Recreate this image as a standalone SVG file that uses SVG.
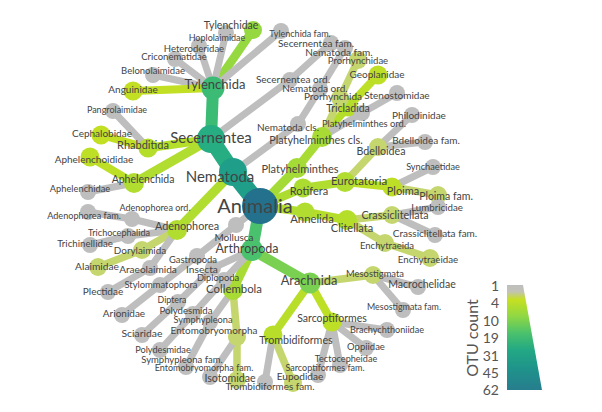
<svg xmlns="http://www.w3.org/2000/svg" width="602" height="412" viewBox="0 0 602 412">
<defs>
<linearGradient id="lg" x1="0" y1="0" x2="0" y2="1">
<stop offset="0" stop-color="#bebebe"/>
<stop offset="0.06" stop-color="#c2c2b8"/>
<stop offset="0.14" stop-color="#c6e021"/>
<stop offset="0.3" stop-color="#8fd744"/>
<stop offset="0.45" stop-color="#4ec36b"/>
<stop offset="0.62" stop-color="#22a884"/>
<stop offset="0.8" stop-color="#1f938b"/>
<stop offset="1" stop-color="#277d8e"/>
</linearGradient>
<style>
line{stroke-linecap:butt}
.eg{stroke:#bebebe;stroke-width:7}
.eo{stroke:#c5d66e;stroke-width:7.5}
.ng{fill:#bebebe}
.no{fill:#c5d66e}
text{font-family:Lato,"Liberation Sans",sans-serif;fill:#444;text-anchor:middle}
.lg{font-size:14px;fill:#555}
</style>
</defs>
<rect width="602" height="412" fill="#fff"/>
<g id="connectors">
<line x1="260" y1="206" x2="233" y2="172" stroke="#1f9e89" stroke-width="18"/>
<line x1="260" y1="206" x2="297" y2="168" stroke="#a5db36" stroke-width="9"/>
<line x1="260" y1="206" x2="303" y2="188" stroke="#addc30" stroke-width="8.5"/>
<line x1="260" y1="206" x2="305" y2="212" stroke="#b0dd2f" stroke-width="8.5"/>
<line x1="260" y1="206" x2="252" y2="250" stroke="#4ac16d" stroke-width="12"/>
<line x1="260" y1="206" x2="236" y2="225" class="eg"/>
<line x1="233" y1="172" x2="211" y2="139" stroke="#26ad81" stroke-width="16"/>
<line x1="233" y1="172" x2="177" y2="230" stroke="#b0dd2f" stroke-width="9"/>
<line x1="233" y1="172" x2="298" y2="124" class="eg"/>
<line x1="298" y1="124" x2="320" y2="89" class="eg"/>
<line x1="320" y1="89" x2="345" y2="48" class="eg"/>
<line x1="211" y1="139" x2="213" y2="88" stroke="#3cbb75" stroke-width="12"/>
<line x1="211" y1="139" x2="148" y2="148" stroke="#b5de2b" stroke-width="8.5"/>
<line x1="211" y1="139" x2="134" y2="183" stroke="#b0dd2f" stroke-width="9"/>
<line x1="211" y1="139" x2="290" y2="80" class="eg"/>
<line x1="290" y1="80" x2="331" y2="43" class="eg"/>
<line x1="213" y1="88" x2="253" y2="30" stroke="#95d840" stroke-width="8.5"/>
<line x1="213" y1="88" x2="226" y2="33" class="eg"/>
<line x1="213" y1="88" x2="199" y2="46" class="eg"/>
<line x1="213" y1="88" x2="175" y2="59" class="eg"/>
<line x1="213" y1="88" x2="153" y2="75" class="eg"/>
<line x1="213" y1="88" x2="133" y2="91" stroke="#c2df23" stroke-width="8"/>
<line x1="213" y1="88" x2="281" y2="31" class="eg"/>
<line x1="148" y1="148" x2="101" y2="135" stroke="#c2df23" stroke-width="8"/>
<line x1="148" y1="148" x2="113" y2="111" class="eg"/>
<line x1="134" y1="183" x2="90" y2="157" stroke="#bddf26" stroke-width="8"/>
<line x1="134" y1="183" x2="88" y2="192" class="eg"/>
<line x1="177" y1="230" x2="132" y2="219" class="eg"/>
<line x1="132" y1="219" x2="88" y2="212" class="eg"/>
<line x1="177" y1="230" x2="128" y2="236" class="eg"/>
<line x1="128" y1="236" x2="90" y2="245" class="eg"/>
<line x1="177" y1="230" x2="142" y2="250" class="eo"/>
<line x1="142" y1="250" x2="98" y2="267" class="eo"/>
<line x1="177" y1="230" x2="150" y2="268" class="eg"/>
<line x1="150" y1="268" x2="108" y2="292" class="eg"/>
<line x1="297" y1="168" x2="322" y2="137" stroke="#a8db34" stroke-width="8.5"/>
<line x1="322" y1="137" x2="348" y2="107" stroke="#b5de2b" stroke-width="8"/>
<line x1="348" y1="107" x2="378" y2="75" stroke="#bddf26" stroke-width="8"/>
<line x1="322" y1="137" x2="340" y2="98" class="eo"/>
<line x1="340" y1="98" x2="358" y2="60" class="eo"/>
<line x1="322" y1="137" x2="362" y2="113" class="eg"/>
<line x1="362" y1="113" x2="397" y2="93" class="eg"/>
<line x1="303" y1="188" x2="345" y2="182" stroke="#b0dd2f" stroke-width="8.5"/>
<line x1="345" y1="182" x2="378" y2="147" class="eo"/>
<line x1="378" y1="147" x2="412" y2="115" class="eg"/>
<line x1="378" y1="147" x2="425" y2="142" class="eg"/>
<line x1="345" y1="182" x2="392" y2="187" stroke="#bddf26" stroke-width="8"/>
<line x1="392" y1="187" x2="433" y2="167" class="eg"/>
<line x1="392" y1="187" x2="438" y2="195" class="eo"/>
<line x1="305" y1="212" x2="347" y2="220" stroke="#b5de2b" stroke-width="8.5"/>
<line x1="347" y1="220" x2="392" y2="215" class="eo"/>
<line x1="392" y1="215" x2="438" y2="207" class="eg"/>
<line x1="392" y1="215" x2="435" y2="235" class="eg"/>
<line x1="347" y1="220" x2="385" y2="243" class="eo"/>
<line x1="385" y1="243" x2="430" y2="258" class="eo"/>
<line x1="252" y1="250" x2="310" y2="283" stroke="#7ad151" stroke-width="10"/>
<line x1="310" y1="283" x2="373" y2="275" class="eo"/>
<line x1="373" y1="275" x2="418" y2="287" class="eg"/>
<line x1="373" y1="275" x2="403" y2="310" class="eg"/>
<line x1="310" y1="283" x2="332" y2="322" stroke="#bddf26" stroke-width="8"/>
<line x1="332" y1="322" x2="387" y2="330" class="eg"/>
<line x1="332" y1="322" x2="366" y2="348" class="eg"/>
<line x1="332" y1="322" x2="340" y2="365" class="eg"/>
<line x1="332" y1="322" x2="318" y2="375" class="eg"/>
<line x1="310" y1="283" x2="273" y2="335" stroke="#b8de29" stroke-width="8"/>
<line x1="273" y1="335" x2="293" y2="383" class="eo"/>
<line x1="273" y1="335" x2="265" y2="382" class="eg"/>
<line x1="252" y1="250" x2="233" y2="290" stroke="#a8db34" stroke-width="9"/>
<line x1="233" y1="290" x2="237" y2="337" class="eo"/>
<line x1="237" y1="337" x2="237" y2="380" class="eo"/>
<line x1="237" y1="337" x2="210" y2="377" class="eg"/>
<line x1="233" y1="290" x2="210" y2="322" class="eg"/>
<line x1="210" y1="322" x2="186" y2="367" class="eg"/>
<line x1="252" y1="250" x2="213" y2="268" class="eg"/>
<line x1="213" y1="268" x2="178" y2="302" class="eg"/>
<line x1="178" y1="302" x2="142" y2="335" class="eg"/>
<line x1="252" y1="250" x2="224" y2="280" class="eg"/>
<line x1="224" y1="280" x2="193" y2="314" class="eg"/>
<line x1="193" y1="314" x2="160" y2="350" class="eg"/>
<line x1="236" y1="225" x2="197" y2="256" class="eg"/>
<line x1="197" y1="256" x2="160" y2="285" class="eg"/>
<line x1="160" y1="285" x2="122" y2="315" class="eg"/>
</g>
<g id="nodes">
<g id="n-animalia"><circle cx="260" cy="206" r="18" fill="#23718c"/></g>
<g id="n-nematoda"><circle cx="233" cy="172" r="14" fill="#1f9e89"/></g>
<g id="n-secernentea"><circle cx="211" cy="139" r="14" fill="#26ad81"/></g>
<g id="n-tylenchida"><circle cx="213" cy="88" r="11.5" fill="#3cbb75"/></g>
<g id="n-tylenchidae"><circle cx="253" cy="30" r="9" fill="#95d840"/></g>
<g id="n-hoplolaimidae"><circle cx="226" cy="33" r="8" class="ng"/></g>
<g id="n-heteroderidae"><circle cx="199" cy="46" r="8" class="ng"/></g>
<g id="n-criconematidae"><circle cx="175" cy="59" r="8" class="ng"/></g>
<g id="n-belonolaimidae"><circle cx="153" cy="75" r="8" class="ng"/></g>
<g id="n-anguinidae"><circle cx="133" cy="91" r="9.5" fill="#c2df23"/></g>
<g id="n-tylenchida-fam"><circle cx="281" cy="31" r="8" class="ng"/></g>
<g id="n-rhabditida"><circle cx="148" cy="148" r="9.5" fill="#b5de2b"/></g>
<g id="n-cephalobidae"><circle cx="101" cy="135" r="9.5" fill="#c2df23"/></g>
<g id="n-pangrolaimidae"><circle cx="113" cy="111" r="8" class="ng"/></g>
<g id="n-aphelenchida"><circle cx="134" cy="183" r="10" fill="#b0dd2f"/></g>
<g id="n-aphelenchoididae"><circle cx="90" cy="157" r="9.5" fill="#bddf26"/></g>
<g id="n-aphelenchidae"><circle cx="88" cy="192" r="8" class="ng"/></g>
<g id="n-secernentea-ord"><circle cx="290" cy="80" r="8" class="ng"/></g>
<g id="n-secernentea-fam"><circle cx="331" cy="43" r="8" class="ng"/></g>
<g id="n-nematoda-cls"><circle cx="298" cy="124" r="8" class="ng"/></g>
<g id="n-nematoda-ord"><circle cx="320" cy="89" r="8" class="ng"/></g>
<g id="n-nematoda-fam"><circle cx="345" cy="48" r="8" class="ng"/></g>
<g id="n-adenophorea"><circle cx="177" cy="230" r="10" fill="#b0dd2f"/></g>
<g id="n-adenophorea-ord"><circle cx="132" cy="219" r="8" class="ng"/></g>
<g id="n-adenophorea-fam"><circle cx="88" cy="212" r="8" class="ng"/></g>
<g id="n-trichocephalida"><circle cx="128" cy="236" r="8" class="ng"/></g>
<g id="n-trichinellidae"><circle cx="90" cy="245" r="8" class="ng"/></g>
<g id="n-dorylaimida"><circle cx="142" cy="250" r="9" class="no"/></g>
<g id="n-alaimidae"><circle cx="98" cy="267" r="9" class="no"/></g>
<g id="n-araeolaimida"><circle cx="150" cy="268" r="8" class="ng"/></g>
<g id="n-plectidae"><circle cx="108" cy="292" r="8" class="ng"/></g>
<g id="n-platyhelminthes"><circle cx="297" cy="168" r="10" fill="#a5db36"/></g>
<g id="n-platyhelminthes-cls"><circle cx="322" cy="137" r="10" fill="#a8db34"/></g>
<g id="n-tricladida"><circle cx="348" cy="107" r="9.5" fill="#b5de2b"/></g>
<g id="n-geoplanidae"><circle cx="378" cy="75" r="9.5" fill="#bddf26"/></g>
<g id="n-prorhynchida"><circle cx="340" cy="98" r="9" class="no"/></g>
<g id="n-prorhynchidae"><circle cx="358" cy="60" r="9" class="no"/></g>
<g id="n-platyhelminthes-ord"><circle cx="362" cy="113" r="8" class="ng"/></g>
<g id="n-stenostomidae"><circle cx="397" cy="93" r="8" class="ng"/></g>
<g id="n-rotifera"><circle cx="303" cy="188" r="9.5" fill="#addc30"/></g>
<g id="n-eurotatoria"><circle cx="345" cy="182" r="10" fill="#b0dd2f"/></g>
<g id="n-bdelloidea"><circle cx="378" cy="147" r="9" class="no"/></g>
<g id="n-philodinidae"><circle cx="412" cy="115" r="8" class="ng"/></g>
<g id="n-bdelloidea-fam"><circle cx="425" cy="142" r="8" class="ng"/></g>
<g id="n-ploima"><circle cx="392" cy="187" r="9.5" fill="#bddf26"/></g>
<g id="n-synchaetidae"><circle cx="433" cy="167" r="8" class="ng"/></g>
<g id="n-ploima-fam"><circle cx="438" cy="195" r="9" class="no"/></g>
<g id="n-annelida"><circle cx="305" cy="212" r="9.5" fill="#b0dd2f"/></g>
<g id="n-clitellata"><circle cx="347" cy="220" r="10" fill="#b5de2b"/></g>
<g id="n-crassiclitellata"><circle cx="392" cy="215" r="9" class="no"/></g>
<g id="n-lumbricidae"><circle cx="438" cy="207" r="8" class="ng"/></g>
<g id="n-crassiclitellata-fam"><circle cx="435" cy="235" r="8" class="ng"/></g>
<g id="n-enchytraeida"><circle cx="385" cy="243" r="9" class="no"/></g>
<g id="n-enchytraeidae"><circle cx="430" cy="258" r="9" class="no"/></g>
<g id="n-arthropoda"><circle cx="252" cy="250" r="11" fill="#4ac16d"/></g>
<g id="n-arachnida"><circle cx="310" cy="283" r="10.5" fill="#7ad151"/></g>
<g id="n-mesostigmata"><circle cx="373" cy="275" r="9" class="no"/></g>
<g id="n-macrochelidae"><circle cx="418" cy="287" r="8" class="ng"/></g>
<g id="n-mesostigmata-fam"><circle cx="403" cy="310" r="8" class="ng"/></g>
<g id="n-sarcoptiformes"><circle cx="332" cy="322" r="9.5" fill="#bddf26"/></g>
<g id="n-brachychthoniidae"><circle cx="387" cy="330" r="8" class="ng"/></g>
<g id="n-oppiidae"><circle cx="366" cy="348" r="8" class="ng"/></g>
<g id="n-tectocepheidae"><circle cx="340" cy="365" r="8" class="ng"/></g>
<g id="n-sarcoptiformes-fam"><circle cx="318" cy="375" r="8" class="ng"/></g>
<g id="n-trombidiformes"><circle cx="273" cy="335" r="9.5" fill="#b8de29"/></g>
<g id="n-eupodidae"><circle cx="293" cy="383" r="9" class="no"/></g>
<g id="n-trombidiformes-fam"><circle cx="265" cy="382" r="8" class="ng"/></g>
<g id="n-collembola"><circle cx="233" cy="290" r="10" fill="#a8db34"/></g>
<g id="n-entomobryomorpha"><circle cx="237" cy="337" r="9" class="no"/></g>
<g id="n-isotomidae"><circle cx="237" cy="380" r="9" class="no"/></g>
<g id="n-entomobryomorpha-fam"><circle cx="210" cy="377" r="8" class="ng"/></g>
<g id="n-symphypleona"><circle cx="210" cy="322" r="8" class="ng"/></g>
<g id="n-symphypleona-fam"><circle cx="186" cy="367" r="8" class="ng"/></g>
<g id="n-insecta"><circle cx="213" cy="268" r="8" class="ng"/></g>
<g id="n-diptera"><circle cx="178" cy="302" r="8" class="ng"/></g>
<g id="n-sciaridae"><circle cx="142" cy="335" r="8" class="ng"/></g>
<g id="n-diplopoda"><circle cx="224" cy="280" r="8" class="ng"/></g>
<g id="n-polydesmida"><circle cx="193" cy="314" r="8" class="ng"/></g>
<g id="n-polydesmidae"><circle cx="160" cy="350" r="8" class="ng"/></g>
<g id="n-mollusca"><circle cx="236" cy="225" r="8" class="ng"/></g>
<g id="n-gastropoda"><circle cx="197" cy="256" r="8" class="ng"/></g>
<g id="n-stylommatophora"><circle cx="160" cy="285" r="8" class="ng"/></g>
<g id="n-arionidae"><circle cx="122" cy="315" r="8" class="ng"/></g>
</g>
<g id="labels">
<text x="255" y="213" font-size="20">Animalia</text>
<text x="220" y="182" font-size="15">Nematoda</text>
<text x="211" y="143" font-size="15">Secernentea</text>
<text x="215" y="89" font-size="13">Tylenchida</text>
<text x="231" y="29" font-size="10.5">Tylenchidae</text>
<text x="217" y="41" font-size="9">Hoplolaimidae</text>
<text x="194" y="52" font-size="9.5">Heteroderidae</text>
<text x="174" y="60" font-size="9.5">Criconematidae</text>
<text x="153" y="74" font-size="9.5">Belonolaimidae</text>
<text x="133" y="93" font-size="10">Anguinidae</text>
<text x="117" y="113" font-size="9">Pangrolaimidae</text>
<text x="102" y="137" font-size="10">Cephalobidae</text>
<text x="143" y="149" font-size="11">Rhabditida</text>
<text x="94" y="163" font-size="10">Aphelenchoididae</text>
<text x="143" y="183" font-size="10.5">Aphelenchida</text>
<text x="80" y="192" font-size="9.3">Aphelenchidae</text>
<text x="300" y="37" font-size="9">Tylenchida fam.</text>
<text x="316" y="47" font-size="10">Secernentea fam.</text>
<text x="339" y="56" font-size="10">Nematoda fam.</text>
<text x="358" y="64" font-size="9.5">Prorhynchidae</text>
<text x="377" y="78" font-size="10">Geoplanidae</text>
<text x="293" y="83" font-size="10">Secernentea ord.</text>
<text x="315" y="92" font-size="10">Nematoda ord.</text>
<text x="333" y="100" font-size="10">Prorhynchida</text>
<text x="397" y="99" font-size="10">Stenostomidae</text>
<text x="348" y="112" font-size="10.5">Tricladida</text>
<text x="419" y="119" font-size="10">Philodinidae</text>
<text x="364" y="127" font-size="9.4">Platyhelminthes ord.</text>
<text x="288" y="131" font-size="10">Nematoda cls.</text>
<text x="316" y="144" font-size="10.8">Platyhelminthes cls.</text>
<text x="426" y="144" font-size="10">Bdelloidea fam.</text>
<text x="381" y="155" font-size="10.7">Bdelloidea</text>
<text x="300" y="173" font-size="11">Platyhelminthes</text>
<text x="433" y="170" font-size="9.2">Synchaetidae</text>
<text x="359" y="185" font-size="11.5">Eurotatoria</text>
<text x="309" y="195" font-size="11">Rotifera</text>
<text x="403" y="195" font-size="11">Ploima</text>
<text x="446" y="200" font-size="10.5">Ploima fam.</text>
<text x="437" y="211" font-size="9.7">Lumbricidae</text>
<text x="395" y="219" font-size="10.7">Crassiclitellata</text>
<text x="312" y="223" font-size="11.3">Annelida</text>
<text x="352" y="232" font-size="11">Clitellata</text>
<text x="435" y="237" font-size="10">Crassiclitellata fam.</text>
<text x="387" y="249" font-size="9.5">Enchytraeida</text>
<text x="428" y="263" font-size="9.7">Enchytraeidae</text>
<text x="155" y="211" font-size="9">Adenophorea ord.</text>
<text x="84" y="219" font-size="9.1">Adenophorea fam.</text>
<text x="187" y="230" font-size="10.8">Adenophorea</text>
<text x="119" y="236" font-size="9.1">Trichocephalida</text>
<text x="234" y="241" font-size="10">Mollusca</text>
<text x="85" y="247" font-size="9.7">Trichinellidae</text>
<text x="247" y="253" font-size="12.5">Arthropoda</text>
<text x="140" y="254" font-size="9.9">Dorylaimida</text>
<text x="193" y="263" font-size="9.4">Gastropoda</text>
<text x="97" y="270" font-size="10.2">Alaimidae</text>
<text x="148" y="273" font-size="10.1">Araeolaimida</text>
<text x="202" y="273" font-size="10.2">Insecta</text>
<text x="375" y="277" font-size="9.4">Mesostigmata</text>
<text x="218" y="281" font-size="9.3">Diplopoda</text>
<text x="309" y="285" font-size="12.8">Arachnida</text>
<text x="161" y="288" font-size="9.4">Stylommatophora</text>
<text x="422" y="288" font-size="10.5">Macrochelidae</text>
<text x="234" y="293" font-size="11.4">Collembola</text>
<text x="103" y="295" font-size="10">Plectidae</text>
<text x="172" y="303" font-size="8.8">Diptera</text>
<text x="404" y="310" font-size="8.9">Mesostigmata fam.</text>
<text x="186" y="314" font-size="9.6">Polydesmida</text>
<text x="124" y="317" font-size="10">Arionidae</text>
<text x="332" y="322" font-size="10.5">Sarcoptiformes</text>
<text x="203" y="323" font-size="9.2">Symphypleona</text>
<text x="387" y="333" font-size="9.1">Brachychthoniidae</text>
<text x="214" y="334" font-size="9.9">Entomobryomorpha</text>
<text x="142" y="337" font-size="10.4">Sciaridae</text>
<text x="296" y="344" font-size="10.7">Trombidiformes</text>
<text x="366" y="350" font-size="9.5">Oppiidae</text>
<text x="163" y="353" font-size="9.2">Polydesmidae</text>
<text x="346" y="362" font-size="9.1">Tectocepheidae</text>
<text x="182" y="363" font-size="9.5">Symphypleona fam.</text>
<text x="325" y="371" font-size="9">Sarcoptiformes fam.</text>
<text x="204" y="371" font-size="9">Entomobryomorpha fam.</text>
<text x="300" y="380" font-size="10.1">Eupodidae</text>
<text x="230" y="382" font-size="10.6">Isotomidae</text>
<text x="270" y="390" font-size="9.9">Trombidiformes fam.</text>
</g>
<g id="legend">
<polygon points="507,285 523,285 542,390 507,390" fill="url(#lg)"/>
<g class="lg" style="text-anchor:end">
<text x="499" y="291" class="lg" style="text-anchor:end">1</text>
<text x="499" y="308" class="lg" style="text-anchor:end">4</text>
<text x="499" y="326" class="lg" style="text-anchor:end">10</text>
<text x="499" y="343" class="lg" style="text-anchor:end">19</text>
<text x="499" y="361" class="lg" style="text-anchor:end">31</text>
<text x="499" y="378" class="lg" style="text-anchor:end">45</text>
<text x="499" y="395" class="lg" style="text-anchor:end">62</text>
</g>
<text x="0" y="0" transform="translate(478,338) rotate(-90)" style="font-size:16px;fill:#555">OTU count</text>
</g>
</svg>
